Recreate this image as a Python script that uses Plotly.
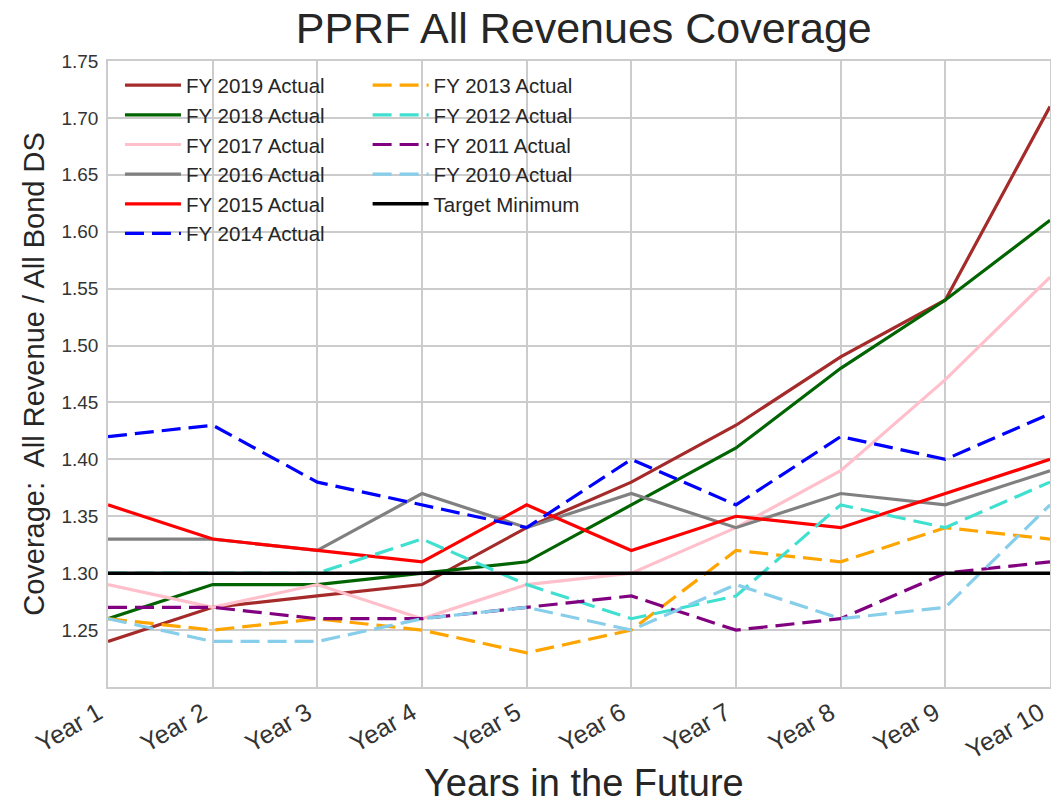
import plotly.graph_objects as go

years = ["Year 1", "Year 2", "Year 3", "Year 4", "Year 5",
         "Year 6", "Year 7", "Year 8", "Year 9", "Year 10"]

fy2019 = [1.24, 1.27, 1.28, 1.29, 1.34, 1.38, 1.43, 1.49, 1.54, 1.71]
fy2018 = [1.26, 1.29, 1.29, 1.30, 1.31, 1.36, 1.41, 1.48, 1.54, 1.61]
fy2017 = [1.29, 1.27, 1.29, 1.26, 1.29, 1.30, 1.34, 1.39, 1.47, 1.56]
fy2016 = [1.33, 1.33, 1.32, 1.37, 1.34, 1.37, 1.34, 1.37, 1.36, 1.39]
fy2015 = [1.36, 1.33, 1.32, 1.31, 1.36, 1.32, 1.35, 1.34, 1.37, 1.40]
fy2014 = [1.42, 1.43, 1.38, 1.36, 1.34, 1.40, 1.36, 1.42, 1.40, 1.44]
fy2013 = [1.26, 1.25, 1.26, 1.25, 1.23, 1.25, 1.32, 1.31, 1.34, 1.33]
fy2012 = [1.30, 1.30, 1.30, 1.33, 1.29, 1.26, 1.28, 1.36, 1.34, 1.38]
fy2011 = [1.27, 1.27, 1.26, 1.26, 1.27, 1.28, 1.25, 1.26, 1.30, 1.31]
fy2010 = [1.26, 1.24, 1.24, 1.26, 1.27, 1.25, 1.29, 1.26, 1.27, 1.36]
target = [1.30] * 10

y_ticks = [1.25, 1.30, 1.35, 1.40, 1.45, 1.50, 1.55, 1.60, 1.65, 1.70, 1.75]

series = [
    ("FY 2019 Actual", fy2019, "#A52A2A", "solid", "legend"),
    ("FY 2018 Actual", fy2018, "#006400", "solid", "legend"),
    ("FY 2017 Actual", fy2017, "#FFC0CB", "solid", "legend"),
    ("FY 2016 Actual", fy2016, "#808080", "solid", "legend"),
    ("FY 2015 Actual", fy2015, "#FF0000", "solid", "legend"),
    ("FY 2014 Actual", fy2014, "#0000FF", "19px,8px", "legend"),
    ("FY 2013 Actual", fy2013, "#FFA500", "19px,8px", "legend2"),
    ("FY 2012 Actual", fy2012, "#40E0D0", "19px,8px", "legend2"),
    ("FY 2011 Actual", fy2011, "#800080", "19px,8px", "legend2"),
    ("FY 2010 Actual", fy2010, "#87CEEB", "19px,8px", "legend2"),
    ("Target Minimum", target, "#000000", "solid", "legend2"),
]

fig = go.Figure()
for name, vals, color, dash, leg in series:
    fig.add_trace(go.Scatter(
        x=years, y=vals, name=name, mode="lines",
        line=dict(color=color, width=3.5 if name == "Target Minimum" else 3.2, dash=dash),
        legend=leg,
    ))

font_family = "Liberation Sans, Arial, sans-serif"
legend_common = dict(
    bgcolor="rgba(0,0,0,0)", borderwidth=0, itemwidth=56,
    font=dict(family=font_family, size=20.5, color="#262626"),
    yanchor="top", y=0.993, xanchor="left",
)

# page body adds an 8px margin and the far right strip is not shown,
# so the figure is sized to end where the visible window ends
fig.update_layout(
    width=1043, height=795,
    margin=dict(l=100, r=1, t=53, b=116),
    paper_bgcolor="white", plot_bgcolor="white",
    font=dict(family=font_family, color="#262626"),
    title=dict(text="PPRF All Revenues Coverage", x=0.552, xanchor="center",
               y=1 - 20 / 795, yanchor="middle", yref="container",
               font=dict(size=43, color="#262626")),
    legend=dict(x=0.0127, **legend_common),
    legend2=dict(x=0.2756, **legend_common),
    xaxis=dict(
        range=[0, 9], tickangle=-30, automargin=False,
        showgrid=True, gridcolor="#cccccc", gridwidth=1.5,
        showline=True, linecolor="#cccccc", linewidth=1.5, mirror=True,
        tickfont=dict(size=25, color="#333333"), ticks="", ticklabelshift=-10,
    ),
    yaxis=dict(
        range=[1.2, 1.75], tickvals=y_ticks, automargin=False,
        tickformat=".2f", showgrid=True, gridcolor="#cccccc", gridwidth=1.5,
        showline=True, linecolor="#cccccc", linewidth=1.5, mirror=True,
        tickfont=dict(size=19, color="#333333"), ticks="", zeroline=False, ticklabelstandoff=4,
        title=dict(text="Coverage:  All Revenue / All Bond DS", font=dict(size=29, color="#262626"), standoff=8),
    ),
)

# x axis title as an annotation so it sits where the reference has it
fig.add_annotation(
    text="Years in the Future", showarrow=False,
    xref="paper", yref="paper", x=0.505, y=-0.153,
    xanchor="center", yanchor="middle",
    font=dict(family=font_family, size=38, color="#262626"),
)

fig.write_html("out.html")
